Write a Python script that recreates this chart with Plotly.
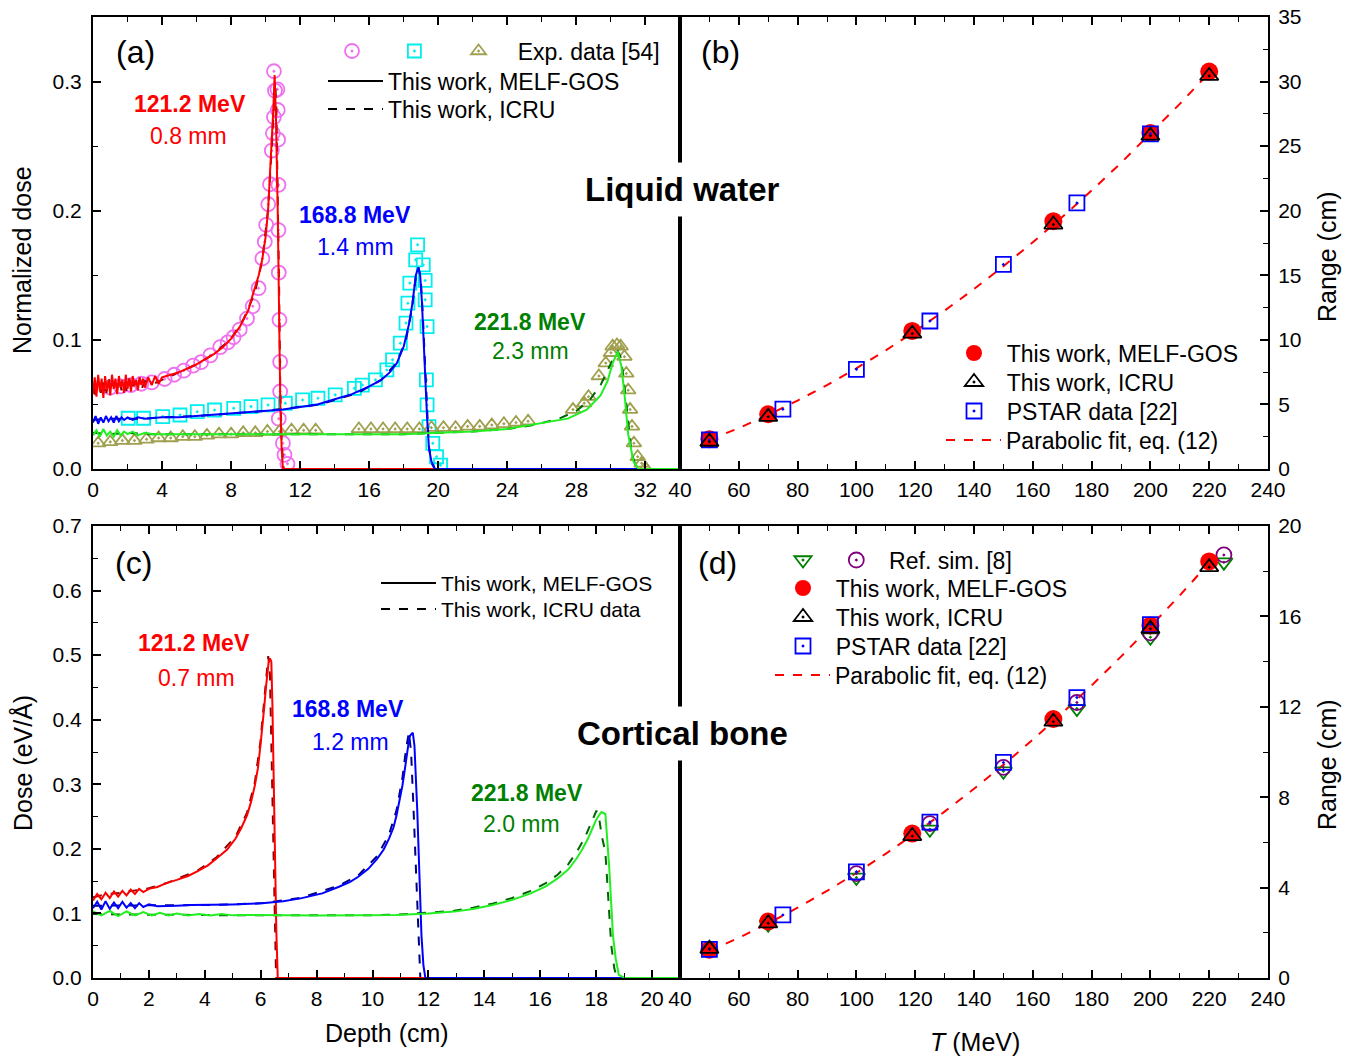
import plotly.graph_objects as go

W, H = 1355, 1060
FONT = "Liberation Sans, Arial, Helvetica, sans-serif"
NB = "\u00a0"
THIN = "\u2009"
HAIR = "\u200a"

# ---------------- Panel (a): liquid water, normalized dose vs depth (cm) ----------------
# 121.2 MeV
w121_melf_d = [0.0, 0.1, 0.2, 0.3, 0.4, 0.5, 0.6, 0.7, 0.8, 0.9, 1.0, 1.1, 1.2, 1.3, 1.4, 1.5, 1.6, 1.7, 1.8, 1.9,
               2.0, 2.1, 2.2, 2.3, 2.4, 2.5, 2.6, 2.7, 2.8, 2.9, 3.0, 3.2, 3.4, 3.6, 3.8, 4.0,
               4.5, 5.0, 5.5, 6.0, 6.5, 7.0, 7.5, 8.0, 8.5, 9.0, 9.3, 9.6, 9.8, 10.0,
               10.14, 10.25, 10.37, 10.45, 10.52, 10.6, 10.7, 10.78, 10.85, 10.93, 11.0, 20.0]
w121_melf_v = [0.058, 0.071, 0.056, 0.073, 0.060, 0.070, 0.055, 0.072, 0.061, 0.069, 0.057, 0.073, 0.062, 0.070, 0.058, 0.072, 0.063, 0.069, 0.059, 0.073,
               0.062, 0.070, 0.060, 0.072, 0.064, 0.069, 0.061, 0.071, 0.065, 0.070, 0.063, 0.071, 0.065, 0.072, 0.066, 0.071,
               0.073, 0.075, 0.078, 0.081, 0.085, 0.089, 0.094, 0.101, 0.110, 0.123, 0.137, 0.150, 0.162, 0.180,
               0.200, 0.225, 0.252, 0.280, 0.305, 0.270, 0.200, 0.120, 0.050, 0.015, 0.0, 0.0]
w121_icru_d = [0, 0.15, 0.3, 0.45, 0.6, 0.75, 0.9, 1.05, 1.2, 1.35, 1.5, 1.65, 1.8, 1.95, 2.1, 2.25, 2.4, 2.55, 2.7, 2.85,
               3.0, 3.5, 4, 5, 6, 7, 8, 8.7, 9.37, 9.81, 10.14, 10.37, 10.55, 10.62,
               10.7, 10.78, 10.85, 10.93, 11.05, 20]
w121_icru_v = [0.064, 0.057, 0.070, 0.059, 0.068, 0.056, 0.071, 0.060, 0.067, 0.058, 0.070, 0.061, 0.068, 0.060, 0.070, 0.062, 0.068, 0.061, 0.070, 0.063,
               0.068, 0.066, 0.069, 0.075, 0.081, 0.089, 0.101, 0.1155, 0.136, 0.162, 0.201, 0.2524, 0.300, 0.28,
               0.22, 0.14, 0.06, 0.02, 0.0, 0.0]
w121_exp_d = [1.0, 1.6, 2.2, 2.8, 3.4, 4.15, 4.7, 5.26, 5.8, 6.26, 6.8, 7.37, 7.8, 8.14, 8.5, 8.92, 9.25, 9.59, 9.81, 9.95,
              10.03, 10.15, 10.25, 10.36, 10.42, 10.48, 10.54, 10.48,
              10.68, 10.7, 10.72, 10.74, 10.74, 10.76, 10.8, 10.84, 10.84, 10.76, 11.0, 11.09, 11.26]
w121_exp_v = [0.063, 0.064, 0.065, 0.066, 0.067, 0.0697, 0.073, 0.0762, 0.080, 0.0827, 0.088, 0.0944, 0.098, 0.102, 0.108, 0.1165, 0.126, 0.140, 0.163, 0.176,
              0.189, 0.205, 0.2205, 0.2465, 0.26, 0.2725, 0.293, 0.308,
              0.294, 0.278, 0.255, 0.220, 0.185, 0.152, 0.1155, 0.083, 0.060, 0.039, 0.020, 0.011, 0.004]
# 168.8 MeV
w168_melf_d = [0, 0.15, 0.3, 0.45, 0.6, 0.75, 0.9, 1.05, 1.2, 1.35, 1.5, 1.65, 1.8, 2.0, 2.3, 2.6, 3.0, 4, 5, 6,
               7, 8, 9, 10, 11, 12, 13, 14, 15, 16, 16.7, 17.2, 17.6, 18.0, 18.3, 18.5, 18.7, 18.84, 18.95, 19.05,
               19.15, 19.25, 19.35, 19.46, 19.6, 19.8, 34]
w168_melf_v = [0.036, 0.041, 0.035, 0.040, 0.036, 0.041, 0.037, 0.040, 0.036, 0.041, 0.037, 0.040, 0.038, 0.040, 0.038, 0.040, 0.039, 0.040, 0.040, 0.041,
               0.042, 0.043, 0.044, 0.045, 0.046, 0.048, 0.050, 0.054, 0.058, 0.064, 0.069, 0.075, 0.082, 0.095, 0.112, 0.128, 0.150, 0.156, 0.150, 0.130,
               0.095, 0.065, 0.040, 0.016, 0.006, 0.0, 0.0]
w168_icru_d = [0, 1, 2, 3, 4, 6, 8, 10, 12, 13.14, 15.36, 16.69, 17.58, 18.13, 18.46, 18.69, 18.86, 18.98, 19.1, 19.2,
               19.32, 19.45, 19.6, 19.8, 34]
w168_icru_v = [0.038, 0.039, 0.039, 0.039, 0.040, 0.041, 0.043, 0.045, 0.048, 0.050, 0.059, 0.069, 0.082, 0.100, 0.123, 0.148, 0.156, 0.148, 0.12, 0.09,
               0.05, 0.018, 0.005, 0.0, 0.0]
w168_exp_d = [2.04, 2.93, 4.04, 5.04, 6.04, 7.04, 8.15, 9.15, 10.14, 11.14, 12.14, 13.03, 14.03, 15.14, 15.6, 16.36, 17.02, 17.35, 17.80, 18.13,
              18.24, 18.35, 18.69, 18.80, 19.13, 19.24, 19.24, 19.35, 19.31, 19.35, 19.46, 19.68, 19.90, 20.13]
w168_exp_v = [0.0393, 0.0393, 0.0406, 0.0418, 0.0444, 0.0457, 0.047, 0.0483, 0.0496, 0.0509, 0.0535, 0.0548, 0.0574, 0.0625, 0.065, 0.069, 0.0767, 0.0845, 0.0974, 0.113,
              0.1284, 0.144, 0.162, 0.1736, 0.158, 0.146, 0.131, 0.1103, 0.069, 0.0496, 0.0328, 0.0199, 0.0095, 0.003]
# 221.8 MeV
w221_melf_d = [0, 0.2, 0.4, 0.6, 0.8, 1.0, 1.2, 1.4, 1.6, 1.8, 2.0, 2.3, 2.6, 3.0, 3.5, 4, 6, 8, 10, 12,
               14, 16, 18, 20, 22, 24, 25.3, 26.5, 27.5, 28.6, 29.4, 29.8, 30.1, 30.4, 30.6, 30.8, 31.0, 31.3, 31.6, 34]
w221_melf_v = [0.026, 0.030, 0.025, 0.031, 0.026, 0.029, 0.025, 0.030, 0.026, 0.029, 0.027, 0.029, 0.026, 0.028, 0.027, 0.027, 0.027, 0.027, 0.027, 0.027,
               0.027, 0.027, 0.027, 0.028, 0.029, 0.031, 0.034, 0.037, 0.039, 0.046, 0.057, 0.068, 0.082, 0.091, 0.080, 0.056, 0.027, 0.006, 0.0, 0.0]
w221_icru_d = [0, 1, 2, 3, 4, 6, 8, 10, 12, 14, 16, 18, 20, 22, 24, 25.5, 27, 28, 28.8, 29.4,
               29.9, 30.2, 30.4, 30.55, 30.7, 30.85, 31.0, 31.2, 31.5, 34]
w221_icru_v = [0.028, 0.027, 0.028, 0.027, 0.027, 0.027, 0.027, 0.027, 0.027, 0.027, 0.027, 0.027, 0.028, 0.029, 0.031, 0.034, 0.039, 0.045, 0.054, 0.065,
               0.079, 0.087, 0.091, 0.087, 0.074, 0.055, 0.033, 0.012, 0.0, 0.0]
w221_exp_d = [0.3, 1.0, 1.7, 2.4, 3.1, 3.8, 4.5, 5.2, 5.9, 6.6, 7.3, 8.0, 8.7, 9.4, 10.1, 10.8, 11.5, 12.2, 12.9,
              15.4, 16.1, 16.8, 17.5, 18.2, 18.9, 19.6, 20.3, 21.0, 21.7, 22.4, 23.1, 23.8, 24.5, 25.2,
              27.8, 28.45, 28.7, 29.3, 29.7, 30.0, 30.1, 30.35, 30.56, 30.78, 30.89, 31.0, 31.11, 31.22, 31.33, 31.55, 31.78, 32.0]
w221_exp_v = [0.020, 0.021, 0.022, 0.022, 0.023, 0.024, 0.024, 0.025, 0.025, 0.026, 0.027, 0.027, 0.028, 0.028, 0.029, 0.029, 0.030, 0.030, 0.030,
              0.031, 0.031, 0.031, 0.031, 0.031, 0.031, 0.032, 0.032, 0.032, 0.033, 0.033, 0.034, 0.035, 0.036, 0.037,
              0.046, 0.051, 0.056, 0.072, 0.082, 0.090, 0.095, 0.096, 0.095, 0.087, 0.074, 0.061, 0.046, 0.033, 0.020, 0.0095, 0.0044, 0.0005]

# ---------------- Panel (b): liquid water, range vs T ----------------
T_this = [50, 70, 119, 167, 200, 220]
Rw_melf = [2.31, 4.24, 10.69, 19.19, 26.01, 30.78]
Rw_icru = [2.11, 4.04, 10.48, 18.93, 25.81, 30.44]
T_pstar = [50, 75, 100, 125, 150, 175, 200]
Rw_pstar = [2.25, 4.63, 7.72, 11.46, 15.84, 20.6, 25.95]
T_fit = [50, 60, 70, 80, 90, 100, 110, 120, 130, 140, 150, 160, 170, 180, 190, 200, 210, 220]
Rw_fit = [2.25, 3.17, 4.19, 5.30, 6.50, 7.80, 9.19, 10.68, 12.26, 13.93, 15.70, 17.55, 19.51, 21.56, 23.70, 25.95, 28.27, 30.69]

# ---------------- Panel (c): cortical bone, dose (eV/Å) vs depth (cm) ----------------
b121_melf_d = [0, 0.15, 0.3, 0.45, 0.6, 0.75, 0.9, 1.05, 1.2, 1.35, 1.5, 1.65, 1.8, 2.0, 2.3, 2.63, 3.0, 3.4, 3.73, 4.1,
               4.42, 4.8, 5.1, 5.3, 5.51, 5.65, 5.79, 5.9, 5.99, 6.07, 6.13, 6.18, 6.23, 6.28, 6.33, 6.38, 6.42, 6.46, 6.51, 6.56,
               6.61, 7.0, 21]
b121_melf_v = [0.120, 0.130, 0.122, 0.132, 0.124, 0.134, 0.126, 0.135, 0.128, 0.137, 0.130, 0.138, 0.133, 0.138, 0.141, 0.147, 0.152, 0.158, 0.165, 0.174,
               0.185, 0.199, 0.216, 0.232, 0.252, 0.272, 0.298, 0.325, 0.360, 0.390, 0.421, 0.447, 0.473, 0.488, 0.495, 0.490, 0.420, 0.300, 0.160, 0.070,
               0.0, 0.0, 0.0]
b121_icru_d = [0, 0.5, 1.0, 1.5, 2.0, 2.63, 3.0, 3.73, 4.42, 5.1, 5.51, 5.79, 5.99, 6.13, 6.2, 6.27, 6.33, 6.38, 6.43, 6.48,
               6.55, 7.0, 21]
b121_icru_v = [0.125, 0.13, 0.132, 0.135, 0.139, 0.147, 0.153, 0.166, 0.187, 0.219, 0.256, 0.303, 0.366, 0.43, 0.47, 0.4985, 0.47, 0.36, 0.22, 0.10,
               0.0, 0.0, 0.0]
b168_melf_d = [0, 0.15, 0.3, 0.45, 0.6, 0.75, 0.9, 1.05, 1.2, 1.35, 1.5, 1.65, 1.8, 2.0, 2.3, 2.63, 3.0, 3.5, 4.0, 5.0,
               6.06, 6.8, 7.43, 8.2, 8.8, 9.2, 9.49, 9.85, 10.17, 10.4, 10.59, 10.75, 10.86, 10.97, 11.07, 11.14, 11.2, 11.27, 11.34, 11.44,
               11.5, 11.55, 11.6, 11.65, 11.7, 11.75, 11.82, 11.89, 12.3, 21]
b168_melf_v = [0.108, 0.118, 0.106, 0.119, 0.107, 0.117, 0.108, 0.118, 0.109, 0.116, 0.108, 0.116, 0.110, 0.114, 0.111, 0.112, 0.112, 0.113, 0.113, 0.114,
               0.1156, 0.119, 0.1233, 0.131, 0.1413, 0.149, 0.1568, 0.169, 0.185, 0.199, 0.2159, 0.233, 0.2519, 0.275, 0.2981, 0.318, 0.339, 0.358, 0.3752, 0.380,
               0.360, 0.3187, 0.260, 0.1953, 0.130, 0.0668, 0.02, 0.0, 0.0, 0.0]
b168_icru_d = [0, 1, 2, 3, 4, 5, 6.06, 7.43, 8.8, 9.49, 10.17, 10.59, 10.86, 11.07, 11.2, 11.3, 11.38, 11.45, 11.52, 11.6,
               11.71, 12.3, 21]
b168_icru_v = [0.112, 0.112, 0.112, 0.113, 0.113, 0.114, 0.116, 0.124, 0.143, 0.159, 0.189, 0.222, 0.26, 0.31, 0.355, 0.38, 0.35, 0.28, 0.2, 0.1,
               0.0, 0.0, 0.0]
b221_melf_d = [0, 0.3, 0.6, 0.9, 1.2, 1.5, 1.8, 2.1, 2.4, 2.7, 3.0, 3.4, 3.8, 4.2, 4.6, 5.0, 5.38, 6.5, 8.12, 9.5,
               10.86, 12.0, 12.92, 13.6, 14.29, 15.0, 15.66, 16.2, 16.62, 17.0, 17.3, 17.5, 17.71, 17.85, 17.99, 18.1, 18.19, 18.33, 18.4, 18.47,
               18.54, 18.6, 18.7, 18.81, 19.02, 21]
b221_melf_v = [0.103, 0.097, 0.104, 0.096, 0.103, 0.097, 0.102, 0.097, 0.101, 0.097, 0.100, 0.097, 0.099, 0.097, 0.099, 0.097, 0.0977, 0.097, 0.0966, 0.097,
               0.0977, 0.100, 0.1028, 0.107, 0.1131, 0.121, 0.1311, 0.142, 0.1542, 0.168, 0.185, 0.199, 0.2159, 0.230, 0.244, 0.252, 0.257, 0.254, 0.215, 0.1696,
               0.115, 0.0668, 0.030, 0.005, 0.0, 0.0]
b221_icru_d = [0, 1, 2, 3, 4, 5, 6.5, 8.12, 9.5, 10.86, 12.0, 12.92, 13.6, 14.29, 15.0, 15.66, 16.2, 16.62, 17.0, 17.3,
               17.58, 17.8, 17.95, 18.01, 18.1, 18.2, 18.33, 18.45, 18.54, 18.65, 18.74, 21]
b221_icru_v = [0.099, 0.098, 0.098, 0.098, 0.097, 0.097, 0.097, 0.0966, 0.097, 0.098, 0.101, 0.104, 0.109, 0.115, 0.124, 0.135, 0.147, 0.160, 0.176, 0.195,
               0.216, 0.238, 0.253, 0.259, 0.25, 0.22, 0.195, 0.12, 0.051, 0.015, 0.0, 0.0]

# ---------------- Panel (d): cortical bone, range vs T ----------------
Rb_melf = [1.25, 2.50, 6.39, 11.46, 15.6, 18.43]
Rb_icru = [1.29, 2.42, 6.28, 11.34, 15.45, 18.18]
Rb_pstar = [1.27, 2.79, 4.70, 6.90, 9.54, 12.41, 15.64]
T_ref_tri = [70, 100, 125, 150, 175, 200, 225]
Rb_ref_tri = [2.38, 4.45, 6.58, 9.15, 11.92, 15.08, 18.4]
T_ref_circ = [100, 125, 150, 175, 200, 225]
Rb_ref_circ = [4.62, 6.83, 9.32, 12.19, 15.27, 18.72]
Rb_fit = [1.20, 1.78, 2.42, 3.11, 3.85, 4.65, 5.50, 6.40, 7.36, 8.37, 9.43, 10.55, 11.72, 12.94, 14.22, 15.55, 16.93, 18.37]

# ---------------- styling ----------------
RED, DRED = "#FF0000", "#8B0000"
BLUE, NAVY = "#0000FF", "#000080"
LIME, DGREEN = "#22EE22", "#006400"
PINK, CYAN, OLIVE = "#F070F0", "#00EEEE", "#A0A050"
LBLGREEN = "#008000"


def px(x):
    return x / W


def py(y):
    return 1 - y / H


fig = go.Figure()


def line(xs, ys, color, dash, xa, ya, width=2.0):
    fig.add_trace(go.Scatter(x=xs, y=ys, mode="lines", xaxis=xa, yaxis=ya, showlegend=False,
                             line=dict(color=color, width=width, dash=dash)))


def marks(xs, ys, symbol, color, size, xa, ya, name="", legend=None, filled=False):
    mk = dict(symbol=symbol, size=size, color=color,
              line=dict(color=color, width=0 if filled else 1.8))
    fig.add_trace(go.Scatter(x=xs, y=ys, mode="markers", xaxis=xa, yaxis=ya, name=name,
                             showlegend=legend is not None, legend=legend or "legend",
                             marker=mk))


def legline(name, color, dash, legend, xa, ya):
    fig.add_trace(go.Scatter(x=[None], y=[None], mode="lines", xaxis=xa, yaxis=ya, name=name,
                             legend=legend, showlegend=True,
                             line=dict(color=color, width=2, dash=dash)))


# panel (a)
marks(w121_exp_d, w121_exp_v, "circle-open-dot", PINK, 14, "x", "y", NB * 2 + THIN, "legend")
marks(w168_exp_d, w168_exp_v, "square-open-dot", CYAN, 13, "x", "y", NB * 3, "legend")
marks(w221_exp_d, w221_exp_v, "triangle-up-open-dot", OLIVE, 13, "x", "y", NB * 3 + "Exp. data [54]", "legend")
line(w121_icru_d, w121_icru_v, DRED, "dash", "x", "y")
line(w168_icru_d, w168_icru_v, NAVY, "dash", "x", "y")
line(w221_icru_d, w221_icru_v, DGREEN, "dash", "x", "y")
line(w121_melf_d, w121_melf_v, RED, "solid", "x", "y")
line(w168_melf_d, w168_melf_v, BLUE, "solid", "x", "y")
line(w221_melf_d, w221_melf_v, LIME, "solid", "x", "y")
legline("This work, MELF-GOS", "black", "solid", "legend2", "x", "y")
legline("This work, ICRU", "black", "dash", "legend3", "x", "y")

# panel (b)
fig.add_trace(go.Scatter(x=T_fit, y=Rw_fit, mode="lines", xaxis="x2", yaxis="y2",
                         name="Parabolic fit, eq. (12)", legend="legend7",
                         line=dict(color=RED, width=2, dash="dash")))
marks(T_this, Rw_melf, "circle", RED, 18, "x2", "y2", NB * 2 + "This work, MELF-GOS", "legend4", filled=True)
marks(T_pstar, Rw_pstar, "square-open-dot", BLUE, 15, "x2", "y2", NB * 2 + "PSTAR data [22]", "legend6")
marks(T_this, Rw_icru, "triangle-up-open-dot", "black", 16, "x2", "y2", NB * 2 + "This work, ICRU", "legend5")

# panel (c)
line(b121_icru_d, b121_icru_v, DRED, "dash", "x3", "y3")
line(b168_icru_d, b168_icru_v, NAVY, "dash", "x3", "y3")
line(b221_icru_d, b221_icru_v, DGREEN, "dash", "x3", "y3")
line(b121_melf_d, b121_melf_v, RED, "solid", "x3", "y3")
line(b168_melf_d, b168_melf_v, BLUE, "solid", "x3", "y3")
line(b221_melf_d, b221_melf_v, LIME, "solid", "x3", "y3")
legline("This work, MELF-GOS", "black", "solid", "legend8", "x3", "y3")
legline("This work, ICRU data", "black", "dash", "legend9", "x3", "y3")

# panel (d)
fig.add_trace(go.Scatter(x=T_fit, y=Rb_fit, mode="lines", xaxis="x4", yaxis="y4",
                         name="Parabolic fit, eq. (12)", legend="legend14",
                         line=dict(color=RED, width=2, dash="dash")))
marks(T_ref_tri, Rb_ref_tri, "triangle-down-open-dot", LBLGREEN, 15, "x4", "y4", NB + HAIR, "legend10")
marks(T_ref_circ, Rb_ref_circ, "circle-open-dot", "#800080", 15, "x4", "y4", NB * 2 + "Ref. sim. [8]", "legend10")
marks(T_this, Rb_melf, "circle", RED, 18, "x4", "y4", NB * 2 + "This work, MELF-GOS", "legend11", filled=True)
marks(T_pstar, Rb_pstar, "square-open-dot", BLUE, 15, "x4", "y4", NB * 2 + "PSTAR data [22]", "legend13")
marks(T_this, Rb_icru, "triangle-up-open-dot", "black", 16, "x4", "y4", NB * 2 + "This work, ICRU", "legend12")

# ---------------- axes ----------------
XA = [px(93), px(680)]
XB = [px(680), px(1268)]
YT = [py(469), py(17)]
YB = [py(978), py(526)]


def ax(domain, rng, dtick, minor, anchor, side=None, mirror="ticks", fmt=None, standoff=4):
    d = dict(domain=domain, range=rng, dtick=dtick, tick0=0, anchor=anchor, automargin=False,
             showline=True, linecolor="black", linewidth=2, mirror=mirror,
             ticks="inside", ticklen=8, tickwidth=1.6, tickcolor="black",
             showgrid=False, zeroline=False, ticklabelstandoff=standoff,
             tickfont=dict(family=FONT, size=21, color="black"),
             minor=dict(dtick=minor, ticks="inside", ticklen=5, tickwidth=1.4,
                        tickcolor="black", showgrid=False))
    if side:
        d["side"] = side
    if fmt:
        d["tickformat"] = fmt
    return d


fig.update_layout(
    template="none",
    xaxis=ax(XA, [0, 34], 4, 2, "y", standoff=1),
    yaxis=ax(YT, [0, 0.35], 0.1, 0.05, "x", mirror=True, fmt=".1f", standoff=5),
    xaxis2=ax(XB, [40, 240], 20, 10, "y2", standoff=1),
    yaxis2=ax(YT, [0, 35], 5, 2.5, "x2", side="right", mirror=True),
    xaxis3=ax(XA, [0, 21], 2, 1, "y3", standoff=1),
    yaxis3=ax(YB, [0, 0.7], 0.1, 0.05, "x3", mirror=True, fmt=".1f", standoff=5),
    xaxis4=ax(XB, [40, 240], 20, 10, "y4", standoff=1),
    yaxis4=ax(YB, [0, 20], 4, 2, "x4", side="right", mirror=True),
)


# ---------------- legends: one per row, placed by row centre ----------------
def leg(x, yc, size, iw=30, horizontal=False):
    top = yc - (size * 1.3 + 3) / 2 - 5
    d = dict(x=px(x), y=py(top), xanchor="left", yanchor="top", bgcolor="rgba(0,0,0,0)",
             borderwidth=0, font=dict(family=FONT, size=size, color="black"),
             tracegroupgap=0, itemwidth=iw, traceorder="normal")
    if horizontal:
        d["orientation"] = "h"
    return d


fig.update_layout(
    legend=leg(332, 51, 23, horizontal=True),
    legend2=leg(323, 81, 23, iw=55),
    legend3=leg(323, 109, 23, iw=55),
    legend4=leg(954, 353, 23),
    legend5=leg(954, 382, 23),
    legend6=leg(954, 411, 23),
    legend7=leg(941, 440, 23, iw=55),
    legend8=leg(376, 583, 21, iw=55),
    legend9=leg(376, 609, 21, iw=55),
    legend10=leg(783, 560, 23, horizontal=True),
    legend11=leg(783, 588, 23),
    legend12=leg(783, 617, 23),
    legend13=leg(783, 646, 23),
    legend14=leg(770, 675, 23, iw=55),
)

# ---------------- text annotations ----------------
ann = []


def txt(x, y, s, size=23, color="black", bold=False, angle=0, bg=None, pad=0):
    a = dict(x=px(x), y=py(y), xref="paper", yref="paper", text=("<b>%s</b>" % s) if bold else s,
             showarrow=False, xanchor="center", yanchor="middle", textangle=angle,
             font=dict(family=FONT, size=size, color=color))
    if bg:
        a["bgcolor"] = bg
        a["borderpad"] = pad
    ann.append(a)


txt(135, 52, "(a)", 32)
txt(720, 52, "(b)", 32)
txt(133, 563, "(c)", 32)
txt(717, 563, "(d)", 32)

txt(190, 104, "121.2 MeV", 23, RED, True)
txt(188, 136, "0.8 mm", 23, RED)
txt(355, 215, "168.8 MeV", 23, BLUE, True)
txt(355, 247, "1.4 mm", 23, BLUE)
txt(530, 322, "221.8 MeV", 23, LBLGREEN, True)
txt(530, 351, "2.3 mm", 23, LBLGREEN)

txt(194, 643, "121.2 MeV", 23, RED, True)
txt(196, 678, "0.7 mm", 23, RED)
txt(348, 709, "168.8 MeV", 23, BLUE, True)
txt(350, 742, "1.2 mm", 23, BLUE)
txt(527, 793, "221.8 MeV", 23, LBLGREEN, True)
txt(521, 824, "2.0 mm", 23, LBLGREEN)

txt(683, 190, "Liquid water", 33, "black", True, bg="white", pad=8)
txt(683, 733, "Cortical bone", 33, "black", True, bg="white", pad=8)

txt(22, 260, "Normalized dose", 25, angle=-90)
txt(1327, 257, "Range (cm)", 25, angle=-90)
txt(22, 763, "Dose (eV/Å)", 25, angle=-90)
txt(1327, 765, "Range (cm)", 25, angle=-90)
txt(387, 1033, "Depth (cm)", 25)
txt(975, 1042, "<i>T</i> (MeV)", 25)

fig.update_layout(annotations=ann, width=W, height=H, autosize=False,
                  margin=dict(l=0, r=0, t=0, b=0, pad=0, autoexpand=False),
                  paper_bgcolor="white", plot_bgcolor="white",
                  font=dict(family=FONT, color="black"))

fig.write_html("out.html")
